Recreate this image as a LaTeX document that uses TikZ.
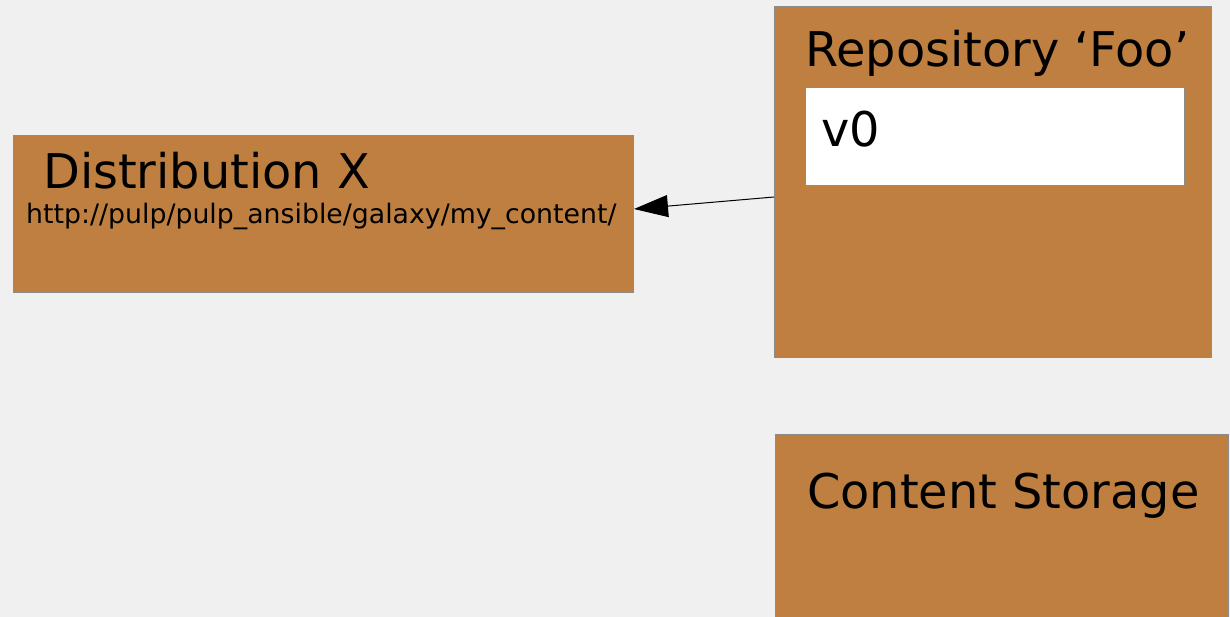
\documentclass[tikz,border=0pt]{standalone}
\usepackage{fontspec}
\setmainfont{DejaVu Sans}
\usetikzlibrary{arrows.meta,calc}
\definecolor{bg}{HTML}{F0F0F0}
\definecolor{boxbrown}{HTML}{BE7F40}
\definecolor{boxedge}{HTML}{8C8C8C}
\tikzset{
  box/.style={draw=boxedge, line width=1pt, fill=boxbrown, rectangle, inner sep=0pt, anchor=north west},
  whitebox/.style={draw=boxedge, line width=1pt, fill=white, rectangle, inner sep=0pt, anchor=north west},
  bigtext/.style={inner sep=0pt, anchor=base west, font=\fontsize{47.8}{56}\selectfont},
  smalltext/.style={inner sep=0pt, anchor=base west, font=\fontsize{26.75}{32}\selectfont},
  link/.style={line width=1pt, -{Triangle[length=34pt, width=22pt]}}
}
\begin{document}
\begin{tikzpicture}[x=1pt, y=-1pt]
\useasboundingbox (0,0) rectangle (1230,617);
\fill[bg] (0,0) rectangle (1230,617);
\clip (0,0) rectangle (1230,617);
% boxes
\node[box, minimum width=620pt, minimum height=157pt] (dist) at (13,135) {};
\node[box, minimum width=437pt, minimum height=351pt] (repo) at (774,6) {};
\node[whitebox, minimum width=379pt, minimum height=98pt] (v0box) at (805,87) {};
\node[box, minimum width=453pt, minimum height=220pt] (store) at (775,434) {};
% texts
\node[bigtext] (disttitle) at (43,189) {Distribution X};
\node[smalltext] (disturl) at (26,224) {http://pulp/pulp\_ansible/galaxy/my\_content/};
\node[bigtext] (repotitle) at (805,67) {Repository ‘Foo’};
\node[bigtext] (v0text) at (821,147) {v0};
\node[bigtext] (storetitle) at (807,508) {Content Storage};
% connector
\coordinate (from) at ($(repo.north west)+(0,191)$);
\coordinate (to) at ($(dist.north east)+(0,74)$);
\draw[link] (from) -- (to);
\end{tikzpicture}
\end{document}
